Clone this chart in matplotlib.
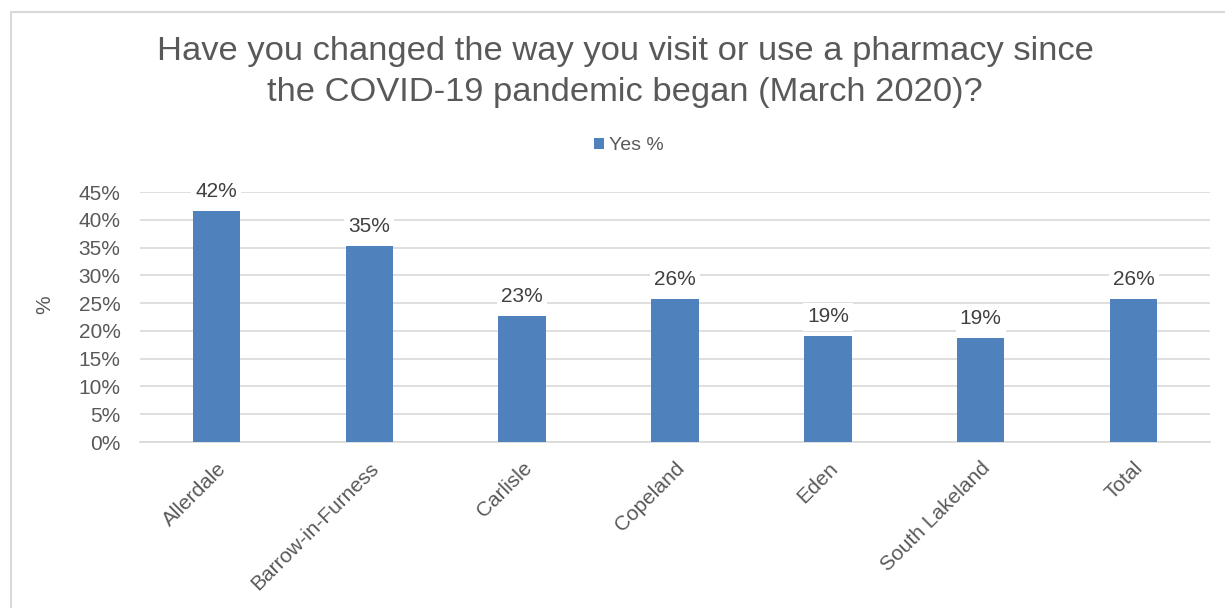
import numpy as np
import matplotlib.pyplot as plt
from matplotlib.patches import Rectangle

areas = ["Allerdale", "Barrow-in-Furness", "Carlisle", "Copeland", "Eden", "South Lakeland", "Total"]
yes_pct = [41.6, 35.3, 22.6, 25.7, 19.0, 18.8, 25.7]
labels = ["42%", "35%", "23%", "26%", "19%", "19%", "26%"]
ticks = [0, 5, 10, 15, 20, 25, 30, 35, 40, 45]

plt.rcParams['font.family'] = ['Liberation Sans', 'DejaVu Sans']

fig = plt.figure(figsize=(12.25, 6.08), dpi=100)
ax = fig.add_axes([140/1225, 1 - 442/608, 1070/1225, 250/608])

x = np.arange(len(areas))
ax.bar(x, yes_pct, width=0.31, color="#4f81bd", zorder=3, label="Yes %")

for xi, v, t in zip(x, yes_pct, labels):
    ax.text(xi, v + 3.5, t, ha="center", va="center", fontsize=15, color="#404040",
            zorder=4, bbox=dict(facecolor="white", edgecolor="none", pad=3))

ax.set_xlim(-0.5, len(areas) - 0.5)
ax.set_ylim(0, 45)
ax.set_yticks(ticks)
ax.set_yticklabels([f"{t}%" for t in ticks], fontsize=15, color="#595959")
ax.set_xticks(x)
ax.set_xticklabels(areas, rotation=45, ha="right", rotation_mode="anchor",
                   fontsize=15, color="#595959")
ax.tick_params(axis="both", length=0)
ax.tick_params(axis="x", pad=12)
ax.tick_params(axis="y", pad=14)
ax.grid(axis="y", color="#d9d9d9", linewidth=1.2, zorder=0)
for s in ["top", "right", "left"]:
    ax.spines[s].set_visible(False)
ax.spines["bottom"].set_color("#d9d9d9")
ax.spines["bottom"].set_linewidth(1.2)

fig.text(45/1225, 1 - 305/608, "%", rotation=90, ha="center", va="center",
         fontsize=15, color="#595959")

fig.text(625/1225, 1 - 72/608,
         "Have you changed the way you visit or use a pharmacy since\nthe COVID-19 pandemic began (March 2020)?",
         ha="center", va="center", fontsize=24.8, color="#595959", linespacing=1.44)

fig.legend(loc="center", bbox_to_anchor=(629/1225, 1 - 146/608), frameon=False,
           fontsize=14, handlelength=0.5, handleheight=0.5, handletextpad=0.3,
           labelcolor="#595959")

fig.patches.append(Rectangle((11/1225, -0.05), 1.0, 1.05 - 12/608, transform=fig.transFigure,
                             fill=False, edgecolor="#d9d9d9", linewidth=1.5))

fig.savefig("out.png", dpi=100)
